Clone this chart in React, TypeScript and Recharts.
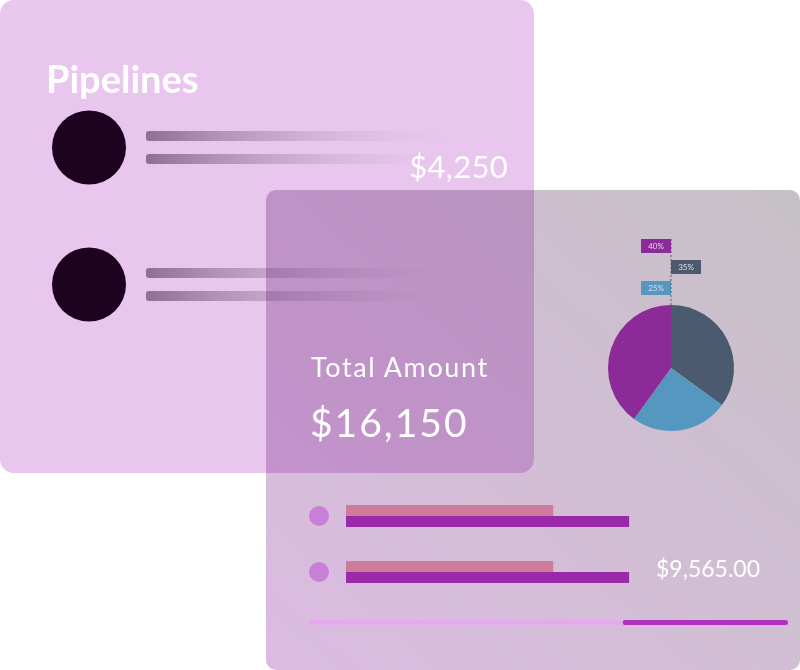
import { BarChart, Bar, XAxis, YAxis, PieChart, Pie, Cell } from "recharts";

// pipelines card (skeleton rows)
const pipelineRows = ["Pipeline A", "Pipeline B"];
const pipelineLine1 = [100, 100];
const pipelineLine2 = [100, 100];

// pie
const sliceNames = ["Won", "Pending", "Open"];
const sliceValues = [35, 25, 40];
const sliceColors = ["#4b5a6f", "#5597bf", "#8c2b97"];

// amount bars
const amountRows = ["Deal 1", "Deal 2"];
const amountPaid = [7000, 7000];
const amountTotal = [9565, 9565];

// progress
const progressDone = [65.5];
const progressLeft = [34.5];

const FONT = "Lato, 'Open Sans', sans-serif";

const pipelineData = pipelineRows.map((name, i) => ({ name, line1: pipelineLine1[i], line2: pipelineLine2[i] }));
const pieData = sliceNames.map((name, i) => ({ name, value: sliceValues[i] }));
const amountData = amountRows.map((name, i) => ({ name, paid: amountPaid[i], total: amountTotal[i] }));
const progressData = [{ name: "progress", done: progressDone[0], left: progressLeft[0] }];

const rankOf = (i: number) =>
  [...sliceValues].sort((a, b) => b - a).indexOf(sliceValues[i]);

function AvatarTick({ x, y, r, offset, color }: any) {
  return <circle cx={x - offset} cy={y} r={r} fill={color} />;
}

function PieTag(props: any) {
  const { cx, cy, outerRadius, index, value } = props;
  const rank = rankOf(index);
  const top = cy - outerRadius - 66 + rank * 21;
  const w = 30;
  const left = rank % 2 === 0 ? cx - w : cx;
  return (
    <g>
      {rank === 0 && (
        <line x1={cx} x2={cx} y1={top} y2={cy - outerRadius} stroke="#5a5a66" strokeDasharray="2 2" strokeWidth={1} />
      )}
      <rect x={left} y={top} width={w} height={14} fill={sliceColors[index]} />
      <text x={left + w / 2} y={top + 10} textAnchor="middle" fontSize={8} fontFamily={FONT} fill="#e4d8e8">
        {value}%
      </text>
    </g>
  );
}

const noMargin = { top: 0, right: 0, bottom: 0, left: 0 };

export default function App() {
  return (
    <div style={{ position: "absolute", left: 0, top: 0, width: 800, height: 670, overflow: "hidden", background: "#fff", fontFamily: FONT, isolation: "isolate" }}>
      {/* card 1 */}
      <div style={{ position: "absolute", left: 0, top: 0, width: 534, height: 473, borderRadius: 14, background: "#e8c6ee" }} />
      <div style={{ position: "absolute", left: 46, top: 55, fontSize: 38, fontWeight: 700, color: "#fff" }}>Pipelines</div>
      <div style={{ position: "absolute", left: 46, top: 79 }}>
        <BarChart width={420} height={274} data={pipelineData} layout="vertical" margin={noMargin} barSize={10} barGap={13}>
          <defs>
            <linearGradient id="skel" x1="0" y1="0" x2="1" y2="0">
              <stop offset="0%" stopColor="#8a6a91" stopOpacity={0.95} />
              <stop offset="100%" stopColor="#e8c6ee" stopOpacity={0} />
            </linearGradient>
          </defs>
          <XAxis type="number" hide domain={[0, 100]} />
          <YAxis
            type="category"
            dataKey="name"
            width={100}
            axisLine={false}
            tickLine={false}
            tickSize={0}
            tickMargin={0}
            tick={<AvatarTick r={37} offset={57} color="#1e0320" />}
          />
          <Bar dataKey="line1" fill="url(#skel)" radius={3} isAnimationActive={false} />
          <Bar dataKey="line2" fill="url(#skel)" radius={3} isAnimationActive={false} />
        </BarChart>
      </div>
      <div style={{ position: "absolute", right: 292, top: 147, fontSize: 31, fontWeight: 400, letterSpacing: 0.3, color: "#fff" }}>$4,250</div>

      {/* card 2 background, multiplied over card 1 */}
      <div
        style={{
          position: "absolute",
          left: 266,
          top: 190,
          width: 534,
          height: 480,
          borderRadius: 10,
          background: "linear-gradient(to top right, #dcbbe2, #c6c1c6)",
          mixBlendMode: "multiply",
        }}
      />
      <div style={{ position: "absolute", left: 311, top: 350, fontSize: 27, fontWeight: 400, letterSpacing: 1.6, color: "#fff" }}>Total Amount</div>
      <div style={{ position: "absolute", left: 310, top: 399, fontSize: 39, fontWeight: 400, letterSpacing: 2, color: "#fff" }}>$16,150</div>

      <div style={{ position: "absolute", left: 591, top: 228 }}>
        <PieChart width={160} height={210} margin={noMargin}>
          <Pie
            data={pieData}
            dataKey="value"
            cx={80}
            cy={140}
            outerRadius={63}
            startAngle={90}
            endAngle={-270}
            stroke="none"
            labelLine={false}
            label={PieTag}
            isAnimationActive={false}
          >
            {pieData.map((d, i) => (
              <Cell key={d.name} fill={sliceColors[i]} />
            ))}
          </Pie>
        </PieChart>
      </div>

      <div style={{ position: "absolute", left: 296, top: 488 }}>
        <BarChart width={346} height={112} data={amountData} layout="vertical" margin={noMargin} barSize={11} barGap={0}>
          <XAxis type="number" hide domain={[0, 10000]} />
          <YAxis
            type="category"
            dataKey="name"
            width={50}
            axisLine={false}
            tickLine={false}
            tickSize={0}
            tickMargin={0}
            tick={<AvatarTick r={10} offset={27} color="#c87fd6" />}
          />
          <Bar dataKey="paid" fill="#cf7b9c" isAnimationActive={false} />
          <Bar dataKey="total" fill="#9a2aaa" isAnimationActive={false} />
        </BarChart>
      </div>
      <div style={{ position: "absolute", left: 656, top: 554, fontSize: 23, fontWeight: 400, color: "#fff" }}>$9,565.00</div>

      <div style={{ position: "absolute", left: 309, top: 610 }}>
        <BarChart width={479} height={24} data={progressData} layout="vertical" margin={noMargin} barSize={5}>
          <XAxis type="number" hide domain={[0, 100]} />
          <YAxis type="category" dataKey="name" hide />
          <Bar dataKey="done" stackId="p" fill="#e8a6f2" radius={3} stroke="#d8c2dc" strokeWidth={0.5} isAnimationActive={false} />
          <Bar dataKey="left" stackId="p" fill="#b030c0" radius={3} isAnimationActive={false} />
        </BarChart>
      </div>
    </div>
  );
}
